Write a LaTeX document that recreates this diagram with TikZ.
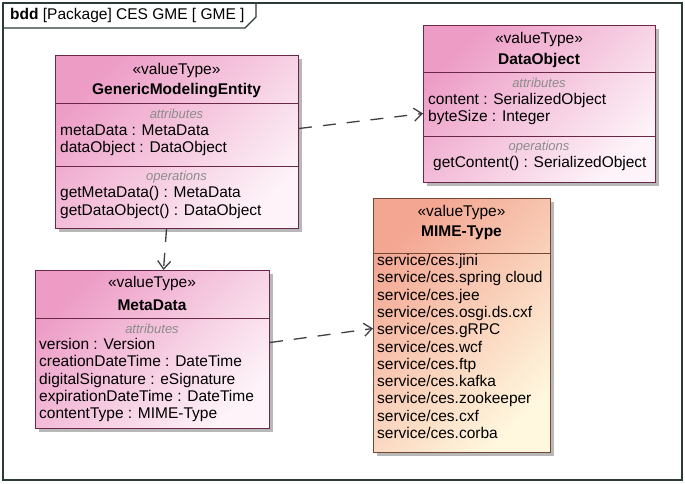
\documentclass[tikz,border=0pt]{standalone}
\usepackage{fontspec}
\setmainfont{Liberation Sans}
\usetikzlibrary{arrows.meta, positioning, shadows}
\definecolor{rosa}{RGB}{237,156,198}
\definecolor{rosaclaro}{RGB}{253,243,248}
\definecolor{borde}{RGB}{105,40,72}
\definecolor{salmon}{RGB}{243,166,146}
\definecolor{crema}{RGB}{255,247,222}
\definecolor{bordemime}{RGB}{115,72,52}
\definecolor{marco}{RGB}{45,58,58}

\begin{document}
\begin{tikzpicture}[
        x=1pt, y=-1pt,
        clase/.style={draw=borde, line width=1pt, top color=rosa, bottom color=rosaclaro, shading angle=45,
            drop shadow={shadow xshift=3pt, shadow yshift=-3pt, fill=black!55}, anchor=north west, inner sep=0pt},
        clasemime/.style={clase, draw=bordemime, top color=salmon, bottom color=crema, shading angle=45},
        estereotipo/.style={font=\fontsize{15.5}{17}\selectfont, inner sep=0pt},
        nombre/.style={font=\fontsize{15.5}{17}\selectfont\bfseries, inner sep=0pt},
        seccion/.style={font=\fontsize{13}{15}\selectfont\itshape, text=black!45, inner sep=0pt},
        lista/.style={font=\fontsize{15.5}{17.3}\selectfont, inner sep=0pt, align=left, anchor=west},
        linea/.style={draw=borde, line width=1pt},
        flecha/.style={-{Straight Barb[length=8pt, width=13pt]}, draw=black!75, line width=1.3pt, dash pattern=on 13pt off 11pt}
    ]
        \useasboundingbox (0,0) rectangle (685,483);
        % marco del diagrama
        \draw[marco, line width=1.4pt, fill=white] (3,3) rectangle (682,480);
        \draw[marco, line width=1.4pt] (3,28) -- (245,28) -- (256,17) -- (256,3);
        \node[anchor=west, font=\fontsize{15.5}{17}\selectfont, inner sep=0pt] (titulo) at (10,15) {\textbf{bdd} [Package] CES GME [ GME ]};

        % GenericModelingEntity
        \node[clase, minimum width=243pt, minimum height=173pt] (gme) at (55,55) {};
        \draw[linea] (55,103) -- (298,103);
        \draw[linea] (55,166) -- (298,166);
        \node[estereotipo] (gmeest) at (176.5,70) {«valueType»};
        \node[nombre] (gmenom) at (176.5,91) {GenericModelingEntity};
        \node[seccion] (gmeatr) at (176.5,114) {attributes};
        \node[lista] (gmeatrl) at (60,140) {metaData : MetaData\\dataObject : DataObject};
        \node[seccion] (gmeop) at (176.5,177) {operations};
        \node[lista] (gmeopl) at (60,202.5) {getMetaData() : MetaData\\getDataObject() : DataObject};

        % DataObject
        \node[clase, minimum width=232pt, minimum height=157pt] (dobj) at (423,25) {};
        \draw[linea] (423,72) -- (655,72);
        \draw[linea] (423,136) -- (655,136);
        \node[estereotipo] (dobjest) at (539,39) {«valueType»};
        \node[nombre] (dobjnom) at (539,60) {DataObject};
        \node[seccion] (dobjatr) at (539,83) {attributes};
        \node[lista] (dobjatrl) at (428,109) {content : SerializedObject\\byteSize : Integer};
        \node[seccion] (dobjop) at (539,147) {operations};
        \node[lista] (dobjopl) at (433,163) {getContent() : SerializedObject};

        % MetaData
        \node[clase, minimum width=234pt, minimum height=158pt] (meta) at (35,270) {};
        \draw[linea] (35,318) -- (269,318);
        \node[estereotipo] (metaest) at (152,283) {«valueType»};
        \node[nombre] (metanom) at (152,305) {MetaData};
        \node[seccion] (metaatr) at (152,329) {attributes};
        \node[lista] (metaatrl) at (39,380) {version : Version\\creationDateTime : DateTime\\digitalSignature : eSignature\\expirationDateTime : DateTime\\contentType : MIME-Type};

        % MIME-Type
        \node[clasemime, minimum width=177pt, minimum height=254pt] (mime) at (373,198) {};
        \draw[linea, draw=bordemime] (373,253) -- (550,253);
        \node[estereotipo] (mimeest) at (461.5,212) {«valueType»};
        \node[nombre] (mimenom) at (461.5,233) {MIME-Type};
        \node[lista] (mimel) at (377,346.5) {service/ces.jini\\service/ces.spring cloud\\service/ces.jee\\service/ces.osgi.ds.cxf\\service/ces.gRPC\\service/ces.wcf\\service/ces.ftp\\service/ces.kafka\\service/ces.zookeeper\\service/ces.cxf\\service/ces.corba};

        % dependencias
        \draw[flecha] ([yshift=13.5pt]gme.east) -- ([yshift=-9.5pt]dobj.west);
        \draw[flecha] ([xshift=-10.5pt]gme.south) -- ([xshift=11pt]meta.north);
        \draw[flecha] ([yshift=7pt]meta.east) -- ([yshift=-3pt]mime.west);
    \end{tikzpicture}
\end{document}
